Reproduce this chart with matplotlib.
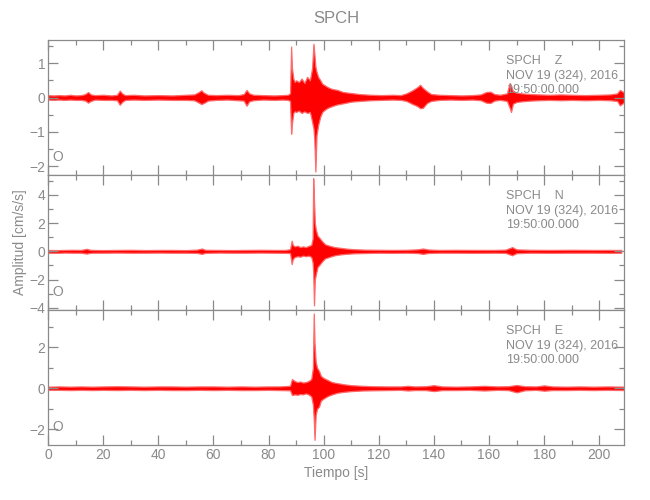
import matplotlib
matplotlib.use('Agg')
import matplotlib.pyplot as plt
from matplotlib.ticker import MultipleLocator

# ============================================
#   SPCH - 3 component record (Z, N, E)
# ============================================

# --- Z component: envelope (time, upper, lower) ---
t_z = [0, 2, 4, 6, 8, 10, 12, 13.5, 14.5, 15.5,
       17, 20, 23, 25, 26, 27, 28, 31, 35, 40,
       45, 50, 53, 54.5, 55.6, 56.5, 58, 61, 65, 69,
       71, 72, 73, 74.5, 78, 82, 85, 87, 87.8, 88.2,
       88.5, 89, 89.5, 90, 91, 92, 93, 94, 95, 95.8,
       96.3, 96.6, 97.0, 97.4, 98, 98.8, 99.5, 100.5, 101.5, 103,
       105, 107, 110, 113, 117, 121, 125, 128, 130, 132,
       134, 135, 136, 137.5, 139, 142, 146, 150, 154, 157,
       159, 160.5, 162, 164, 166.5, 167.5, 168, 168.7, 170, 172,
       175, 178, 182, 186, 190, 195, 200, 204, 206.5, 207.5,
       209]
up_z = [0.07, 0.06, 0.07, 0.06, 0.08, 0.06, 0.07, 0.10, 0.16, 0.09,
        0.07, 0.08, 0.06, 0.08, 0.20, 0.11, 0.07, 0.08, 0.06, 0.07,
        0.06, 0.08, 0.09, 0.15, 0.21, 0.14, 0.08, 0.07, 0.08, 0.07,
        0.10, 0.22, 0.12, 0.08, 0.07, 0.06, 0.07, 0.08, 0.12, 1.48,
        0.85, 0.55, 0.45, 0.50, 0.45, 0.55, 0.42, 0.60, 0.50, 0.85,
        1.56, 1.30, 0.90, 0.75, 0.60, 0.50, 0.40, 0.35, 0.30, 0.25,
        0.22, 0.16, 0.13, 0.10, 0.08, 0.07, 0.08, 0.07, 0.12, 0.20,
        0.30, 0.37, 0.28, 0.18, 0.10, 0.08, 0.07, 0.06, 0.07, 0.09,
        0.16, 0.17, 0.10, 0.08, 0.12, 0.42, 0.35, 0.18, 0.14, 0.12,
        0.10, 0.09, 0.08, 0.09, 0.08, 0.07, 0.08, 0.09, 0.12, 0.22,
        0.15]
dn_z = [-0.06, -0.07, -0.06, -0.07, -0.06, -0.07, -0.07, -0.09, -0.15, -0.10,
        -0.06, -0.07, -0.07, -0.08, -0.21, -0.12, -0.07, -0.06, -0.07, -0.06,
        -0.07, -0.07, -0.08, -0.14, -0.19, -0.16, -0.09, -0.07, -0.06, -0.08,
        -0.09, -0.24, -0.11, -0.08, -0.06, -0.07, -0.06, -0.07, -0.10, -1.05,
        -0.75, -0.45, -0.40, -0.42, -0.38, -0.45, -0.40, -0.45, -0.42, -0.70,
        -0.90, -1.20, -2.15, -1.10, -0.80, -0.55, -0.42, -0.35, -0.30, -0.25,
        -0.20, -0.17, -0.12, -0.10, -0.08, -0.07, -0.06, -0.07, -0.10, -0.18,
        -0.25, -0.31, -0.30, -0.16, -0.10, -0.07, -0.06, -0.07, -0.06, -0.08,
        -0.15, -0.16, -0.09, -0.07, -0.10, -0.30, -0.42, -0.18, -0.13, -0.11,
        -0.09, -0.08, -0.07, -0.08, -0.07, -0.08, -0.07, -0.08, -0.10, -0.23,
        -0.14]

# --- N component ---
t_n = [0, 3, 6, 9, 12, 14, 15, 16, 20, 25, 30, 35, 40, 45, 50,
       54, 55.8, 57, 62, 67, 72, 77, 82, 86,
       87.8, 88.4, 88.8, 89.5, 90.5, 91.5, 92.5, 93.5, 94.5, 95.5,
       96.0, 96.2, 96.5, 96.8, 97.2, 97.8, 98.5, 99.5, 100.5,
       102, 104, 106, 108, 111, 115,
       120, 125, 130, 134, 136, 138, 142, 148, 155,
       162, 166, 168.4, 170, 175, 182, 190, 198, 204, 208]
up_n = [0.10, 0.09, 0.10, 0.11, 0.10, 0.18, 0.12, 0.10, 0.09, 0.10, 0.11, 0.09, 0.10, 0.10, 0.09,
        0.12, 0.20, 0.11, 0.10, 0.09, 0.10, 0.11, 0.10, 0.10,
        0.15, 0.75, 0.45, 0.35, 0.40, 0.30, 0.35, 0.30, 0.38, 0.45,
        0.90, 5.17, 3.60, 2.00, 1.50, 1.10, 0.95, 0.70, 0.50,
        0.40, 0.30, 0.25, 0.20, 0.15, 0.12,
        0.11, 0.10, 0.11, 0.14, 0.20, 0.13, 0.10, 0.11, 0.10,
        0.10, 0.12, 0.30, 0.14, 0.11, 0.10, 0.11, 0.10, 0.10, 0.10]
dn_n = [-0.10, -0.11, -0.09, -0.10, -0.10, -0.16, -0.12, -0.10, -0.10, -0.09, -0.10, -0.10, -0.09, -0.10, -0.10,
        -0.11, -0.18, -0.11, -0.09, -0.10, -0.10, -0.09, -0.10, -0.11,
        -0.12, -0.90, -0.55, -0.40, -0.35, -0.38, -0.30, -0.35, -0.30, -0.40,
        -0.80, -1.50, -3.82, -2.00, -1.60, -1.10, -0.95, -0.70, -0.50,
        -0.40, -0.28, -0.22, -0.18, -0.14, -0.12,
        -0.10, -0.11, -0.10, -0.12, -0.18, -0.12, -0.10, -0.10, -0.11,
        -0.10, -0.11, -0.28, -0.13, -0.10, -0.11, -0.10, -0.10, -0.11, -0.10]

# --- E component ---
t_e = [0, 4, 8, 12, 16, 20, 25, 30, 35, 40,
       45, 50, 55, 60, 65, 70, 75, 80, 84, 87.8,
       88.5, 89.5, 90.5, 91.5, 92.5, 93.5, 94.5, 95.5, 96.1, 96.4,
       96.7, 97.1, 97.6, 98.3, 99, 100, 101.5, 103, 105, 107,
       110, 114, 118, 123, 128, 130.5, 133, 137, 140, 143,
       148, 153, 158.4, 163, 167, 170, 173, 177, 180, 183,
       188, 193, 198, 203, 209]
up_e = [0.08, 0.09, 0.08, 0.09, 0.08, 0.09, 0.10, 0.09, 0.08, 0.09,
        0.09, 0.08, 0.09, 0.09, 0.08, 0.09, 0.08, 0.09, 0.09, 0.12,
        0.45, 0.35, 0.30, 0.33, 0.28, 0.30, 0.35, 0.45, 1.00, 3.65,
        2.20, 1.30, 1.00, 0.85, 0.60, 0.50, 0.40, 0.30, 0.25, 0.20,
        0.15, 0.12, 0.10, 0.09, 0.09, 0.12, 0.09, 0.10, 0.15, 0.09,
        0.08, 0.09, 0.12, 0.09, 0.10, 0.16, 0.10, 0.09, 0.14, 0.09,
        0.08, 0.09, 0.08, 0.09, 0.08]
dn_e = [-0.08, -0.08, -0.09, -0.08, -0.09, -0.08, -0.09, -0.08, -0.09, -0.08,
        -0.09, -0.09, -0.08, -0.09, -0.08, -0.09, -0.09, -0.08, -0.09, -0.10,
        -0.33, -0.30, -0.32, -0.28, -0.30, -0.25, -0.30, -0.40, -0.80, -1.50,
        -2.52, -1.30, -1.00, -0.90, -0.60, -0.50, -0.38, -0.30, -0.22, -0.18,
        -0.14, -0.11, -0.10, -0.09, -0.08, -0.11, -0.09, -0.09, -0.14, -0.09,
        -0.09, -0.08, -0.11, -0.08, -0.09, -0.20, -0.10, -0.08, -0.12, -0.09,
        -0.09, -0.08, -0.09, -0.08, -0.09]

components = ['Z', 'N', 'E']
station = 'SPCH'
date_txt = 'NOV 19 (324), 2016'
time_txt = '19:50:00.000'

# ============================================
#   Figure
# ============================================
gray = '#8a8a8a'
plt.rcParams['font.family'] = ['Liberation Sans', 'DejaVu Sans']

fig = plt.figure(figsize=(6.5, 5.0), dpi=100)

panels = [
    (t_z, up_z, dn_z, (-2.25, 1.67), 1, 0.5, 0.65),
    (t_n, up_n, dn_n, (-4.15, 5.4), 2, 1, 0.38),
    (t_e, up_e, dn_e, (-2.77, 3.82), 2, 1, 0.11),
]

axes = []
for i, (t, up, dn, ylim, major, minor, bottom) in enumerate(panels):
    ax = fig.add_axes([0.074, bottom, 0.886, 0.27])
    ax.fill_between(t, dn, up, facecolor='#ff0000', edgecolor='#ff6a6a', linewidth=0.9)
    ax.set_xlim(0, 209)
    ax.set_ylim(*ylim)

    ax.xaxis.set_major_locator(MultipleLocator(20))
    ax.xaxis.set_minor_locator(MultipleLocator(10))
    ax.yaxis.set_major_locator(MultipleLocator(major))
    ax.yaxis.set_minor_locator(MultipleLocator(minor))
    ax.tick_params(which='both', direction='in', top=True, right=True,
                   color=gray, labelcolor=gray, labelsize=10, pad=2)
    ax.tick_params(which='major', length=7, width=0.9)
    ax.tick_params(which='minor', length=3.6, width=0.9)
    for s in ax.spines.values():
        s.set_color(gray)
        s.set_linewidth(0.9)
    if i < 2:
        ax.tick_params(labelbottom=False)

    # header block in the upper right
    ax.text(0.795, 0.845, f'{station}    {components[i]}', transform=ax.transAxes,
            color=gray, fontsize=9, va='center', ha='left')
    ax.text(0.795, 0.735, date_txt, transform=ax.transAxes,
            color=gray, fontsize=9, va='center', ha='left')
    ax.text(0.795, 0.63, time_txt, transform=ax.transAxes,
            color=gray, fontsize=9, va='center', ha='left')
    ax.text(0.007, 0.13, 'O', transform=ax.transAxes,
            color=gray, fontsize=10, va='center', ha='left')
    axes.append(ax)

axes[0].set_title(station, color=gray, fontsize=12, pad=12)
axes[1].set_ylabel('Amplitud [cm/s/s]', color=gray, fontsize=10)
axes[1].yaxis.set_label_coords(-0.036, 0.5)
axes[2].set_xlabel('Tiempo [s]', color=gray, fontsize=10, labelpad=3)

plt.savefig('out.png', dpi=100)
